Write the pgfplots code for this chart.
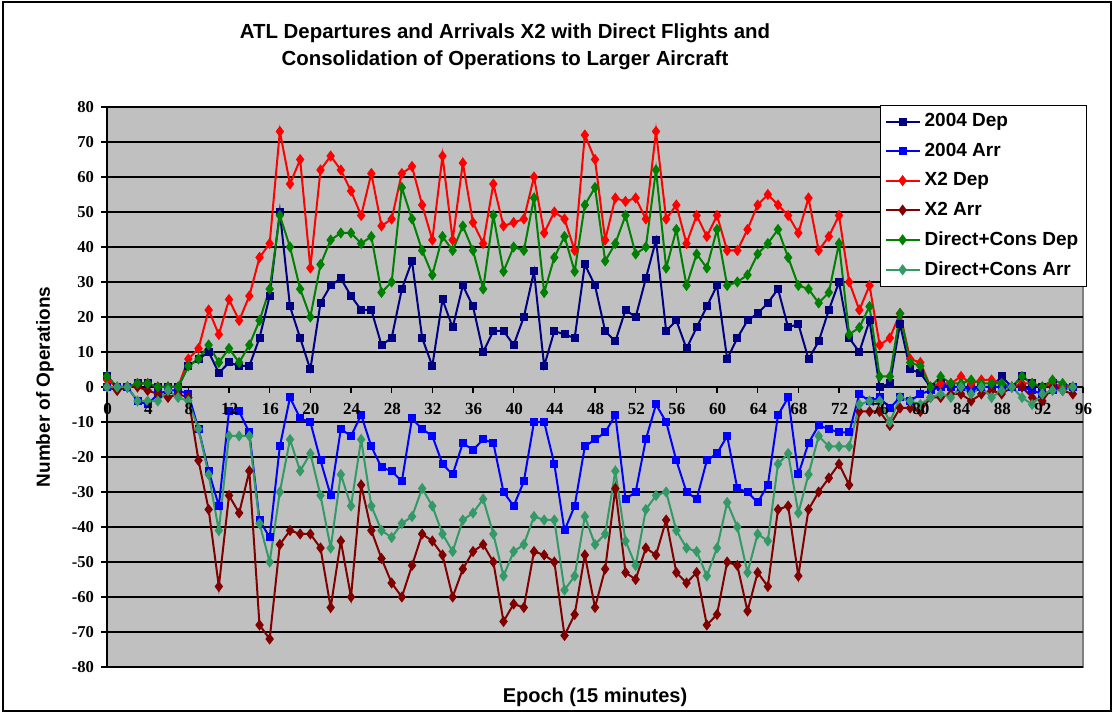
\documentclass[border=0pt]{standalone}
\usepackage{fontspec}
\setmainfont{Liberation Sans}
\newfontfamily\tnr{Liberation Serif}
\usepackage{pgfplots}
\usepackage{pgfplotstable}
\pgfplotsset{compat=1.18}

\definecolor{plotgray}{HTML}{C0C0C0}
\definecolor{framegray}{HTML}{808080}
\definecolor{dep04}{HTML}{000080}
\definecolor{arr04}{HTML}{0000FF}
\definecolor{xdep}{HTML}{FF0000}
\definecolor{xarr}{HTML}{800000}
\definecolor{dcdep}{HTML}{008000}
\definecolor{dcarr}{HTML}{339966}

% epoch, 2004 dep, 2004 arr, X2 dep, X2 arr, direct+cons dep, direct+cons arr
\pgfplotstableread{
e  d04 a04 xd  xa  cd  ca
0   3   0   2   0   3   0
1   0   0   0  -1   0   0
2   0   0   0   0   0   0
3   1  -4   1   0   1  -4
4   1  -5   1  -1   1  -4
5   0  -2   0  -2   0  -4
6   0  -1   0  -3   0  -1
7   0  -1   0  -2   0  -3
8   6  -2   8  -3   6  -4
9   8 -12  11 -21   8 -12
10 10 -24  22 -35  12 -25
11  4 -34  15 -57   7 -41
12  7  -7  25 -31  11 -14
13  6  -7  19 -36   7 -14
14  6 -13  26 -24  12 -14
15 14 -38  37 -68  19 -39
16 26 -43  41 -72  28 -50
17 50 -17  73 -45  49 -30
18 23  -3  58 -41  40 -15
19 14  -9  65 -42  28 -24
20  5 -10  34 -42  20 -19
21 24 -21  62 -46  35 -31
22 29 -31  66 -63  42 -46
23 31 -12  62 -44  44 -25
24 26 -14  56 -60  44 -34
25 22  -8  49 -28  41 -15
26 22 -17  61 -41  43 -34
27 12 -23  46 -49  27 -41
28 14 -24  48 -56  30 -43
29 28 -27  61 -60  57 -39
30 36  -9  63 -51  48 -37
31 14 -12  52 -42  39 -29
32  6 -14  42 -44  32 -34
33 25 -22  66 -48  43 -42
34 17 -25  42 -60  39 -47
35 29 -16  64 -52  46 -38
36 23 -18  47 -47  39 -36
37 10 -15  41 -45  28 -32
38 16 -16  58 -50  49 -42
39 16 -30  46 -67  33 -54
40 12 -34  47 -62  40 -47
41 20 -27  48 -63  39 -45
42 33 -10  60 -47  54 -37
43  6 -10  44 -48  27 -38
44 16 -22  50 -50  37 -38
45 15 -41  48 -71  43 -58
46 14 -34  39 -65  33 -54
47 35 -17  72 -48  52 -37
48 29 -15  65 -63  57 -45
49 16 -13  42 -52  36 -42
50 13  -8  54 -29  41 -24
51 22 -32  53 -53  49 -44
52 20 -30  54 -55  38 -51
53 31 -15  48 -46  40 -35
54 42  -5  73 -48  62 -31
55 16 -10  48 -38  34 -30
56 19 -21  52 -53  45 -41
57 11 -30  41 -56  29 -46
58 17 -32  49 -53  38 -47
59 23 -21  43 -68  34 -54
60 29 -19  49 -65  45 -46
61  8 -14  39 -50  29 -33
62 14 -29  39 -51  30 -40
63 19 -30  45 -64  32 -53
64 21 -33  52 -53  38 -42
65 24 -28  55 -57  41 -44
66 28  -8  52 -35  45 -22
67 17  -3  49 -34  37 -19
68 18 -25  44 -54  29 -36
69  8 -16  54 -35  28 -25
70 13 -11  39 -30  24 -14
71 22 -12  43 -26  27 -17
72 30 -13  49 -22  41 -17
73 14 -13  30 -28  15 -17
74 10  -2  22  -7  17  -5
75 19  -4  29  -7  23  -4
76  0  -3  12  -7   3  -4
77  1  -6  14 -11   3 -10
78 18  -3  21  -6  21  -3
79  5  -4   8  -6   7  -4
80  4  -2   7  -7   6  -5
81  0  -1   0  -3   0  -3
82  1   0   1  -3   3  -2
83  0   0   1  -2   1  -3
84  0   0   3  -2   1   0
85  0  -1   1  -4   2  -2
86  0   0   2  -2   1   0
87  0   0   2  -1   1  -3
88  3   0   1  -2   1  -1
89  0   0   0   0   0   0
90  3   0   1   0   3  -3
91  1  -1   1  -3   1  -5
92  0  -2   0  -4   0  -2
93  1  -1   1   0   2  -1
94  0   0   0  -1   1  -1
95  0   0   0  -2   0   0
}\ops

\begin{document}
\begin{tikzpicture}
\useasboundingbox (0,0) rectangle (557pt,356.5pt);
\draw[black, line width=0.6pt] (1.5pt,1pt) rectangle (555.5pt,355.5pt);

\node[font=\bfseries\fontsize{10.2}{12}\selectfont] at (252.5pt,340pt) {ATL Departures and Arrivals X2 with Direct Flights and};
\node[font=\bfseries\fontsize{10.2}{12}\selectfont] at (252.5pt,326.5pt) {Consolidation of Operations to Larger Aircraft};
\node[font=\bfseries\fontsize{9.5}{11}\selectfont, rotate=90] at (22.5pt,163pt) {Number of Operations};
\node[font=\bfseries\fontsize{10}{12}\selectfont] at (297.5pt,8pt) {Epoch (15 minutes)};

\begin{axis}[
  at={(53.5pt,23pt)}, anchor=south west,
  scale only axis, width=488pt, height=280pt,
  xmin=0, xmax=96, ymin=-80, ymax=80,
  axis x line=middle, axis y line=left,
  x axis line style={-, black, line width=0.7pt},
  y axis line style={-, black, line width=0.7pt},
  axis background/.style={fill=plotgray, draw=framegray, line width=0.8pt},
  xtick={0,4,...,96}, ytick={-80,-70,...,80},
  xticklabels={},
  xtick align=outside, ytick align=outside,
  major tick length=3pt,
  tick style={black, line width=0.6pt},
  ymajorgrids, grid style={black, line width=0.6pt},
  /pgf/number format/assume math mode=true,
  yticklabel style={font=\tnr\bfseries\fontsize{8.3}{9}\selectfont, anchor=east},
  every axis plot/.append style={line width=1pt},
  legend style={at={(1.004,1.0036)}, anchor=north east, draw=black, line width=0.6pt,
    fill=white, font=\bfseries\fontsize{9.5}{11}\selectfont, row sep=2.6pt, inner sep=2pt},
  legend cell align=left,
]
\addplot[color=dep04, mark=square*, mark size=1.5pt] table[x=e, y=d04] {\ops};
\addplot[color=arr04, mark=square*, mark size=1.5pt] table[x=e, y=a04] {\ops};
\addplot[color=xdep, mark=diamond*, mark size=2pt] table[x=e, y=xd] {\ops};
\addplot[color=xarr, mark=diamond*, mark size=2pt] table[x=e, y=xa] {\ops};
\addplot[color=dcdep, mark=diamond*, mark size=2pt] table[x=e, y=cd] {\ops};
\addplot[color=dcarr, mark=diamond*, mark size=2pt] table[x=e, y=ca] {\ops};
\legend{2004 Dep, 2004 Arr, X2 Dep, X2 Arr, Direct+Cons Dep, Direct+Cons Arr}
\end{axis}

% epoch labels along the zero line
\foreach \v in {0,4,...,96}
  \node[font=\tnr\bfseries\fontsize{8.5}{10}\selectfont, anchor=north, inner sep=1pt]
    at ({53.8pt+5.08333pt*\v}, 156pt) {\v};
\end{tikzpicture}
\end{document}
